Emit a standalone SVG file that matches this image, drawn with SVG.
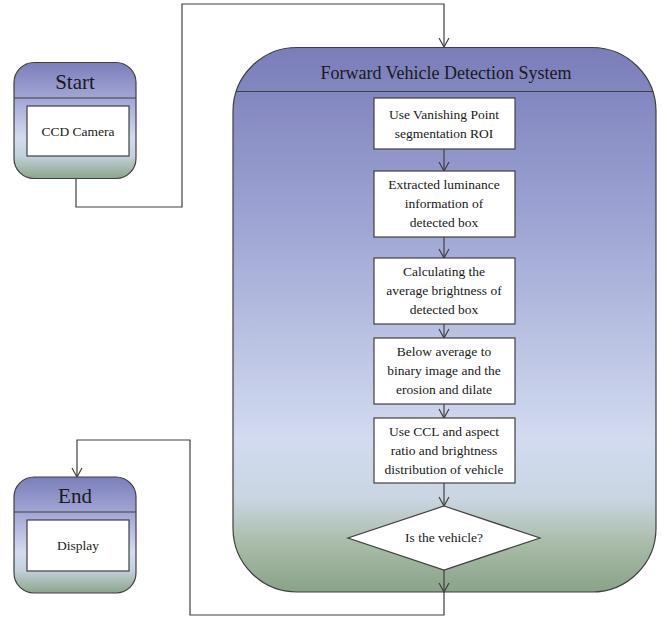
<svg xmlns="http://www.w3.org/2000/svg" width="662" height="621" viewBox="0 0 662 621">
<defs>
<linearGradient id="gBig" x1="0" y1="0" x2="0" y2="1">
<stop offset="0" stop-color="#7a7db9"/>
<stop offset="0.3" stop-color="#9ca2d2"/>
<stop offset="0.72" stop-color="#d2dbf0"/>
<stop offset="0.83" stop-color="#c9d5e2"/>
<stop offset="0.91" stop-color="#a9bca8"/>
<stop offset="1" stop-color="#8aa389"/>
</linearGradient>
<linearGradient id="gSmall" x1="0" y1="0" x2="0" y2="1">
<stop offset="0" stop-color="#7b7eba"/>
<stop offset="0.35" stop-color="#a7acd9"/>
<stop offset="0.65" stop-color="#d3dbf0"/>
<stop offset="0.8" stop-color="#c4d1dc"/>
<stop offset="1" stop-color="#8ca68b"/>
</linearGradient>
<marker id="arr" markerWidth="12" markerHeight="12" viewBox="0 0 12 12" refX="10" refY="6" orient="auto" markerUnits="userSpaceOnUse">
<path d="M1,1 L10,6 L1,11" fill="none" stroke="#404040" stroke-width="1.2"/>
</marker>
</defs>
<style>
.cont{stroke:#404040;stroke-width:1.2}
.box{fill:#ffffff;stroke:#404040;stroke-width:1.2}
.ln{fill:none;stroke:#404040;stroke-width:1.2}
.t{font-family:'Liberation Serif','Times New Roman','DejaVu Serif',serif;fill:#1a1a1a;text-anchor:middle}
.s{font-size:13.5px}
.h{font-size:21px}
.ht{font-size:18px}
</style>
<rect width="662" height="621" fill="#ffffff"/>

<g id="system">
<path class="cont" fill="url(#gBig)" d="M297,47.5 L592,47.5 A64,64 0 0 1 656,111.5 L656,528 A64,64 0 0 1 592,592 L297,592 A64,64 0 0 1 233,528 L233,111.5 A64,64 0 0 1 297,47.5 Z"/>
<line class="cont" x1="236" y1="91.5" x2="653" y2="91.5"/>
<text class="t ht" x="446" y="79">Forward Vehicle Detection System</text>
</g>

<g id="connectors">
<polyline class="ln" points="76,179 76,207 182,207 182,4 444,4 444,47" marker-end="url(#arr)"/>
<line class="ln" x1="444" y1="149" x2="444" y2="171" marker-end="url(#arr)"/>
<line class="ln" x1="444" y1="237" x2="444" y2="258" marker-end="url(#arr)"/>
<line class="ln" x1="444" y1="324" x2="444" y2="338" marker-end="url(#arr)"/>
<line class="ln" x1="444" y1="404" x2="444" y2="418" marker-end="url(#arr)"/>
<line class="ln" x1="444" y1="483" x2="444" y2="506" marker-end="url(#arr)"/>
<line class="ln" x1="444" y1="570" x2="444" y2="592" marker-end="url(#arr)"/>
<polyline class="ln" points="444,592 444,615 190,615 190,440 77,440 77,477" marker-end="url(#arr)"/>
</g>

<g id="start">
<rect class="cont" fill="url(#gSmall)" x="14" y="62.5" width="122" height="116" rx="20"/>
<line class="cont" x1="14" y1="98" x2="136" y2="98"/>
<text class="t h" x="75" y="89">Start</text>
<rect class="box" x="27" y="106" width="102" height="50"/>
<text class="t s" x="78" y="136">CCD Camera</text>
</g>

<g id="end">
<rect class="cont" fill="url(#gSmall)" x="14" y="477" width="122" height="116" rx="20"/>
<line class="cont" x1="14" y1="512" x2="136" y2="512"/>
<text class="t h" x="75" y="503">End</text>
<rect class="box" x="27" y="520" width="102" height="51"/>
<text class="t s" x="78" y="550">Display</text>
</g>

<g id="box1">
<rect class="box" x="374" y="98" width="141" height="51"/>
<text class="t s" x="444" y="119">Use Vanishing Point</text>
<text class="t s" x="444" y="138">segmentation ROI</text>
</g>

<g id="box2">
<rect class="box" x="374" y="171" width="141" height="66"/>
<text class="t s" x="444" y="189">Extracted luminance</text>
<text class="t s" x="444" y="208">information of</text>
<text class="t s" x="444" y="227">detected box</text>
</g>

<g id="box3">
<rect class="box" x="374" y="258" width="141" height="66"/>
<text class="t s" x="444" y="276">Calculating the</text>
<text class="t s" x="444" y="295">average brightness of</text>
<text class="t s" x="444" y="314">detected box</text>
</g>

<g id="box4">
<rect class="box" x="374" y="338" width="141" height="66"/>
<text class="t s" x="444" y="356">Below average to</text>
<text class="t s" x="444" y="375">binary image and the</text>
<text class="t s" x="444" y="394">erosion and dilate</text>
</g>

<g id="box5">
<rect class="box" x="374" y="418" width="141" height="65"/>
<text class="t s" x="444" y="436">Use CCL and aspect</text>
<text class="t s" x="444" y="455">ratio and brightness</text>
<text class="t s" x="444" y="474">distribution of vehicle</text>
</g>

<g id="decision">
<polygon class="box" points="444,506 540,538 444,570 348,538"/>
<text class="t s" x="444" y="542">Is the vehicle?</text>
</g>
</svg>
